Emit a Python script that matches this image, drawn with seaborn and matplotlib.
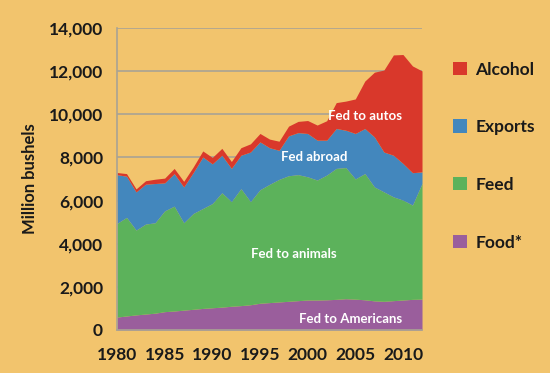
import pandas as pd
import matplotlib.pyplot as plt
import seaborn as sns

# ---------- Data (million bushels) ----------
years = list(range(1980, 2013))

food = [600, 650, 700, 740, 780, 850, 880, 920, 960, 1000,
        1030, 1060, 1100, 1130, 1170, 1240, 1270, 1300, 1330, 1360,
        1390, 1390, 1400, 1420, 1450, 1430, 1400, 1350, 1330, 1360,
        1390, 1420, 1430]

feed = [4340, 4570, 3930, 4170, 4190, 4670, 4860, 4050, 4440, 4630,
        4830, 5300, 4850, 5420, 4780, 5260, 5480, 5680, 5820, 5840,
        5710, 5560, 5780, 6070, 6080, 5570, 5850, 5280, 5070, 4810,
        4630, 4370, 5360]

exports = [2260, 1910, 1770, 1850, 1820, 1300, 1510, 1660, 1900, 2390,
           1840, 1740, 1540, 1550, 2300, 2220, 1700, 1350, 1850, 1950,
           2010, 1850, 1620, 1850, 1730, 2110, 2090, 2320, 1850, 1930,
           1700, 1500, 540]

alcohol = [100, 120, 140, 160, 200, 220, 240, 260, 260, 280,
           300, 320, 320, 350, 380, 390, 400, 420, 450, 520,
           600, 700, 900, 1200, 1350, 1600, 2200, 3000, 3800, 4650,
           5050, 4950, 4680]

series = ["Food*", "Feed", "Exports", "Alcohol"]
colors = {"Food*": "#9a5e9c", "Feed": "#5cb25b",
          "Exports": "#4387bd", "Alcohol": "#d9382b"}

df = pd.DataFrame({"year": years, "Food*": food, "Feed": feed,
                   "Exports": exports, "Alcohol": alcohol})

# ---------- Style ----------
BG = "#f2c46d"
sns.set_theme(style="whitegrid")
plt.rcParams["font.family"] = ["Lato", "DejaVu Sans"]
plt.rcParams["font.weight"] = "bold"

fig = plt.figure(figsize=(5.5, 3.73), dpi=100, facecolor=BG)
ax = fig.add_axes([0.2127, 0.1153, 0.5546, 0.8097])
ax.set_facecolor(BG)

ax.stackplot(df["year"], [df[s] for s in series],
             colors=[colors[s] for s in series], labels=series,
             linewidth=0, zorder=2)

ax.set_xlim(1980, 2012)
ax.set_ylim(0, 14000)
ax.set_xticks(range(1980, 2011, 5))
ax.set_yticks(range(0, 14001, 2000))
ax.yaxis.set_major_formatter(plt.FuncFormatter(lambda v, p: f"{int(v):,}"))

ax.grid(axis="y", color="#a9a394", linewidth=1.2, zorder=0)
ax.grid(axis="x", visible=False)
ax.set_axisbelow(True)

for side in ["top", "right"]:
    ax.spines[side].set_visible(False)
for side in ["left", "bottom"]:
    ax.spines[side].set_color("#a9a394")
    ax.spines[side].set_linewidth(1.2)

ax.tick_params(axis="x", direction="in", length=3, color="#a9a394",
               labelsize=12.5, labelcolor="#1a1a1a", pad=12)
ax.tick_params(axis="y", length=0, labelsize=12.5, labelcolor="#1a1a1a", pad=10)
for lab in ax.get_xticklabels() + ax.get_yticklabels():
    lab.set_fontweight("bold")

ax.set_xlabel("")
ax.set_ylabel("Million bushels", fontsize=12, fontweight="bold",
              color="#1a1a1a", labelpad=8)

# ---------- In-chart labels ----------
txt = dict(color="white", fontsize=9.5, fontweight="bold",
           ha="center", va="center", zorder=3)
ax.text(2006.0, 9900, "Fed to autos", **txt)
ax.text(2000.7, 8000, "Fed abroad", **txt)
ax.text(1998.5, 3540, "Fed to animals", **txt)
ax.text(2004.5, 520, "Fed to Americans", **txt)

# ---------- Legend ----------
handles, labels = ax.get_legend_handles_labels()
leg = fig.legend(handles[::-1], labels[::-1], loc="upper left",
                 bbox_to_anchor=(0.795, 0.877), frameon=False,
                 fontsize=12.5, handlelength=0.8, handleheight=0.8,
                 handletextpad=0.5, labelspacing=2.4)
for t in leg.get_texts():
    t.set_fontweight("bold")
    t.set_color("#1a1a1a")

fig.savefig("out.png", dpi=100, facecolor=BG)
